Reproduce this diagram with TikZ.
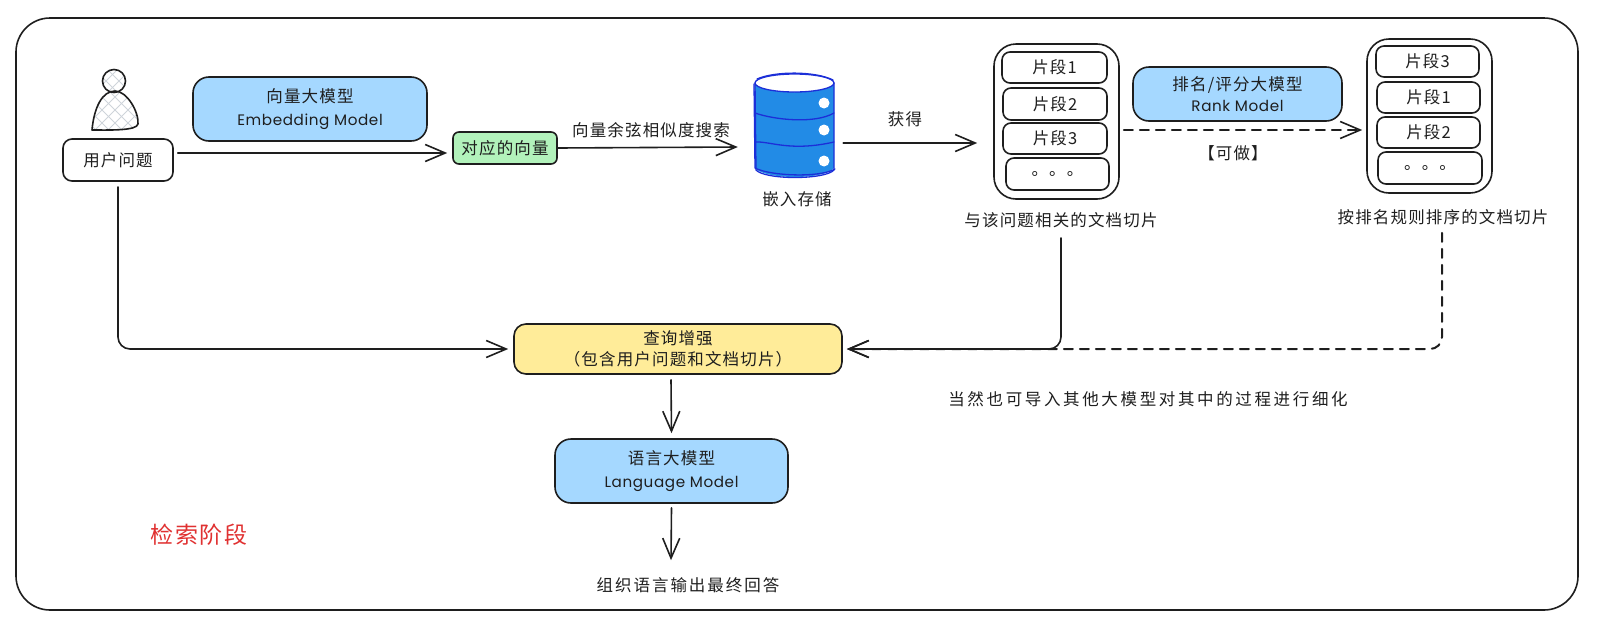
\documentclass[tikz,border=0pt]{standalone}
\usepackage{fontspec}
\setmainfont{Noto Sans CJK SC}[LetterSpace=7]
\newfontfamily\lat{Poppins}[LetterSpace=4,Scale=0.92]
\usetikzlibrary{arrows.meta}
\definecolor{ink}{HTML}{1E1E1E}
\definecolor{modelblue}{HTML}{A5D8FF}
\definecolor{vecgreen}{HTML}{B2F2BB}
\definecolor{augyellow}{HTML}{FFEC99}
\definecolor{dbblue}{HTML}{228BE6}
\definecolor{dbline}{HTML}{1C2FD8}
\definecolor{hatch}{HTML}{CED4DA}
\definecolor{stagered}{HTML}{E03131}
\tikzset{
  txt/.style={text=ink, font=\fontsize{16.5}{21.5}\selectfont, align=center, inner sep=0pt},
  box/.style={txt, draw=ink, line width=1.6pt, rounded corners=#1, inner sep=0pt},
  box/.default=8pt,
  model/.style={box=16pt, fill=modelblue},
  arr/.style={draw=ink, line width=1.6pt, line cap=round, -{Straight Barb[length=20pt,width=17pt,line width=1.6pt]}},
  dasharr/.style={arr, line width=2pt, dash pattern=on 9pt off 7pt},
  dbstroke/.style={dbline, line width=1.3pt, line cap=round},
}
\begin{document}
\begin{tikzpicture}[x=1pt,y=-1pt]
\useasboundingbox (0,0) rectangle (1600,627);

% outer frame
\node[box=34pt, minimum width=1562pt, minimum height=592pt] (frame) at (797,314) {};

% user figure
\begin{scope}
  \clip (114,81) circle (11.5pt);
  \foreach \d in {-60,-47,...,60} {
    \draw[hatch, line width=.8pt] (114+\d-30,51) -- (114+\d+30,111);
    \draw[hatch, line width=.8pt] (114+\d+30,51) -- (114+\d-30,111);
  }
\end{scope}
\begin{scope}
  \clip (92,130) .. controls (94,108) and (102,91) .. (115,91) .. controls (127,91) and (139,112) .. (138,124) .. controls (137,131) and (108,130) .. (92,130) -- cycle;
  \foreach \d in {-91,-78,...,91} {
    \draw[hatch, line width=.8pt] (115+\d-30,80) -- (115+\d+30,140);
    \draw[hatch, line width=.8pt] (115+\d+30,80) -- (115+\d-30,140);
  }
\end{scope}
\draw[ink, line width=1.6pt] (114,81) circle (11.5pt);
\draw[ink, line width=1.6pt, line join=round] (92,130) .. controls (94,108) and (102,91) .. (115,91) .. controls (127,91) and (139,112) .. (138,124) .. controls (137,131) and (108,130) .. (92,130) -- cycle;

% first row
\node[box=9pt, minimum width=110pt, minimum height=42pt] (user) at (118,160) {用户问题};
\node[model, minimum width=234pt, minimum height=64pt] (embed) at (310,109) {向量大模型\\[1pt]{\lat Embedding Model}};
\node[box=6pt, fill=vecgreen, minimum width=104pt, minimum height=32pt] (vec) at (505,148) {对应的向量};
\node[txt] (searchlbl) at (651,130) {向量余弦相似度搜索};

% vector store
\node[minimum width=79pt, minimum height=104pt, inner sep=0pt] (db) at (794.5,125) {};
\fill[dbblue] (755,83) -- (755,168) .. controls (765,180) and (825,180) .. (834,168) -- (834,83) -- cycle;
\draw[dbstroke] (755,83) -- (756,170) .. controls (765,180) and (825,180) .. (834,170) -- (834,83);
\draw[dbstroke] (754,84) -- (755,168) .. controls (770,176) and (820,178) .. (835,169);
\draw[dbstroke, fill=white] (794.5,83) ellipse (39.5pt and 9pt);
\draw[dbstroke] (757,79) .. controls (775,71) and (815,71) .. (833,80);
\draw[dbstroke] (755,113) .. controls (775,120) and (815,124) .. (834,113);
\draw[dbstroke] (755,142) .. controls (770,141) and (790,152) .. (834,142);
\fill[white] (824,103) circle (5.5pt) (824,130) circle (5.5pt) (824,161) circle (5.5pt);
\node[txt] (dblbl) at (797,199) {嵌入存储};
\node[txt] (gotlbl) at (905,119) {获得};

% retrieved chunks
\node[box=22pt, minimum width=125pt, minimum height=155pt] (listA) at (1056.5,121.5) {};
\node[box, minimum width=105pt, minimum height=31pt] (a1) at (1054.5,67.5) {片段1};
\node[box, minimum width=104pt, minimum height=32pt] (a2) at (1055,104) {片段2};
\node[box, minimum width=104pt, minimum height=31pt] (a3) at (1055,138.5) {片段3};
\node[box, minimum width=103pt, minimum height=32pt] (a4) at (1057.5,174) {。。。};
\node[txt] (capA) at (1061,220) {与该问题相关的文档切片};

% rank model
\node[model, minimum width=209pt, minimum height=54pt] (rank) at (1237.5,94) {排名/评分大模型\\[-1pt]{\lat Rank Model}};
\node[txt] (optlbl) at (1233,153) {【可做】};

% ranked chunks
\node[box=22pt, minimum width=125pt, minimum height=154pt] (listB) at (1429.5,116) {};
\node[box, minimum width=103pt, minimum height=31pt] (b1) at (1427.5,61.5) {片段3};
\node[box, minimum width=103pt, minimum height=31pt] (b2) at (1428.5,97.5) {片段1};
\node[box, minimum width=103pt, minimum height=31pt] (b3) at (1428.5,132.5) {片段2};
\node[box, minimum width=104pt, minimum height=32pt] (b4) at (1430,168) {。。。};
\node[txt] (capB) at (1443,217) {按排名规则排序的文档切片};

% lower part
\node[box=12pt, fill=augyellow, minimum width=328pt, minimum height=50pt] (query) at (678,349) {\raisebox{-2pt}{查询增强}\\\raisebox{-2pt}{（包含用户问题和文档切片）}};
\node[model, minimum width=233pt, minimum height=64pt] (lang) at (671.5,471) {语言大模型\\[1pt]{\lat Language Model}};
\node[txt, font=\fontsize{16.5}{21}\selectfont\addfontfeature{LetterSpace=12}] (answer) at (688,585) {组织语言输出最终回答};
\node[txt, font=\fontsize{16.5}{21}\selectfont\addfontfeature{LetterSpace=16}] (note) at (1148,399) {当然也可导入其他大模型对其中的过程进行细化};
\node[txt, text=stagered, font=\fontsize{23}{26}\selectfont] (stage) at (199,535) {检索阶段};

% connectors
\draw[arr] ([xshift=4pt,yshift=7pt]user.east) -- ([xshift=-5pt,yshift=-5pt]vec.west);
\draw[arr] (vec.east) -- ([xshift=-17pt,yshift=-22pt]db.west);
\draw[arr] ([xshift=9pt,yshift=-18pt]db.east) -- ([xshift=-16pt,yshift=-21.5pt]listA.west);
\draw[dasharr] ([xshift=4pt,yshift=-8.5pt]listA.east) -- ([xshift=-4pt,yshift=-14pt]listB.west);
\draw[arr, rounded corners=12pt, shorten <=5pt] (user.south) -- (user.south |- query.west) -- ([xshift=-5pt]query.west);
\draw[arr, rounded corners=12pt, shorten <=10pt] (capA.south) -- (capA.south |- query.east) -- ([xshift=4pt]query.east);
\draw[dasharr, rounded corners=12pt, shorten <=8pt] ([xshift=-1pt]capB.south) -- ([xshift=-1pt]capB.south |- query.east) -- ([xshift=4pt]query.east);
\draw[arr] ([xshift=-7pt,yshift=-5pt]query.south) -- ([yshift=5pt]lang.north);
\draw[arr] ([yshift=-4pt]lang.south) -- ([xshift=-17pt,yshift=17pt]answer.north);
\end{tikzpicture}
\end{document}
